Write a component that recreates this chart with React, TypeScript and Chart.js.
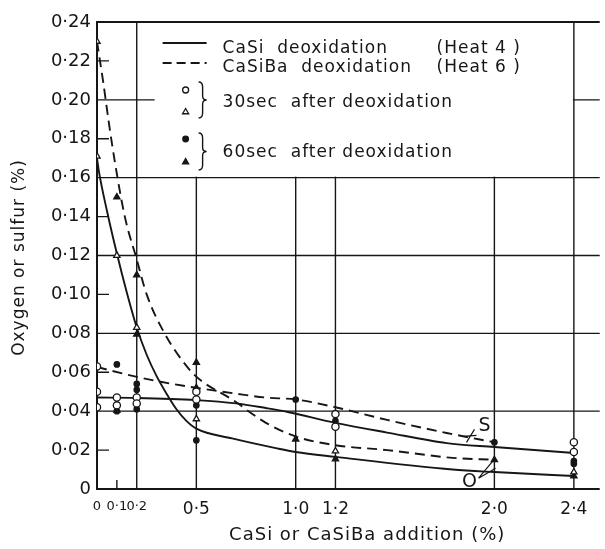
import React, { useEffect, useRef } from "react";
import { Chart, registerables } from "chart.js";

Chart.register(...registerables);

// ---------- axis ticks ----------
const xTickValues = [0, 0.1, 0.2, 0.5, 1.0, 1.2, 2.0, 2.4];
const xTickLabels = ["0", "0·1", "0·2", "0·5", "1·0", "1·2", "2·0", "2·4"];
const yTickValues = [0, 0.02, 0.04, 0.06, 0.08, 0.1, 0.12, 0.14, 0.16, 0.18, 0.2, 0.22, 0.24];
const yTickLabels = ["0", "0·02", "0·04", "0·06", "0·08", "0·10", "0·12", "0·14", "0·16", "0·18", "0·20", "0·22", "0·24"];

// ---------- grid positions (data values) ----------
const hGridFull = [0.04, 0.08, 0.12, 0.16, 0.2];
const hGridShort = [0.02, 0.06, 0.1, 0.14, 0.18, 0.22];
const vGridFull = [0.2, 0.5, 1.0, 1.2, 2.0, 2.4];
const vGridShort = [0.1];

// ---------- fitted curves ----------
const oxygenCaSiX = [0, 0.01, 0.05, 0.1, 0.15, 0.2, 0.25, 0.3, 0.35, 0.4, 0.45, 0.5, 0.68, 0.9, 1.0, 1.2, 1.79, 2.0, 2.4];
const oxygenCaSiY = [0.17, 0.163, 0.143, 0.121, 0.101, 0.083, 0.069, 0.058, 0.049, 0.041, 0.035, 0.031, 0.026, 0.021, 0.019, 0.0165, 0.01, 0.0087, 0.0067];

const oxygenCaSiBaX = [0, 0.03, 0.06, 0.09, 0.14, 0.2, 0.25, 0.34, 0.46, 0.52, 0.68, 0.85, 1.0, 1.2, 1.46, 1.79, 2.0];
const oxygenCaSiBaY = [0.23, 0.21, 0.188, 0.168, 0.14, 0.118, 0.1, 0.08, 0.062, 0.056, 0.046, 0.034, 0.027, 0.0225, 0.02, 0.016, 0.015];

const sulfurCaSiX = [0, 0.2, 0.5, 0.7, 0.85, 0.96, 1.2, 1.46, 1.76, 2.0, 2.4];
const sulfurCaSiY = [0.047, 0.0468, 0.0457, 0.044, 0.0416, 0.0396, 0.034, 0.029, 0.0236, 0.0216, 0.0185];

const sulfurCaSiBaX = [0, 0.2, 0.38, 0.5, 0.7, 0.85, 1.0, 1.2, 1.46, 1.76, 2.0];
const sulfurCaSiBaY = [0.0627, 0.0576, 0.054, 0.052, 0.049, 0.047, 0.046, 0.042, 0.0355, 0.0288, 0.024];

// ---------- measured points ----------
const open30CircleX = [0, 0, 0, 0.1, 0.1, 0.2, 0.2, 0.5, 0.5, 1.2, 1.2, 2.4, 2.4];
const open30CircleY = [0.063, 0.05, 0.042, 0.047, 0.043, 0.047, 0.044, 0.05, 0.046, 0.0385, 0.032, 0.024, 0.019];

const open30TriangleX = [0, 0, 0.1, 0.2, 0.5, 1.2, 2.4];
const open30TriangleY = [0.23, 0.171, 0.12, 0.083, 0.036, 0.0195, 0.0087];

const filled60CircleX = [0.1, 0.1, 0.2, 0.2, 0.2, 0.5, 0.5, 0.5, 1.0, 1.2, 1.2, 2.0, 2.4, 2.4];
const filled60CircleY = [0.064, 0.04, 0.054, 0.051, 0.041, 0.051, 0.043, 0.025, 0.046, 0.035, 0.032, 0.024, 0.0144, 0.013];

const filled60TriangleX = [0.1, 0.1, 0.2, 0.2, 0.5, 0.5, 1.0, 1.2, 2.0, 2.4];
const filled60TriangleY = [0.15, 0.0405, 0.11, 0.0795, 0.065, 0.052, 0.0256, 0.0154, 0.015, 0.0067];

const INK = "#161616";
const FONT = "'DejaVu Sans', sans-serif";

const pts = (xs: number[], ys: number[]) => xs.map((x, i) => ({ x, y: ys[i] }));

function drawMarker(ctx: CanvasRenderingContext2D, kind: string, filled: boolean, x: number, y: number, r: number) {
  ctx.beginPath();
  if (kind === "circle") {
    ctx.arc(x, y, r, 0, Math.PI * 2);
  } else {
    let rad = 0;
    ctx.moveTo(x + Math.sin(rad) * r, y - Math.cos(rad) * r);
    rad += (2 * Math.PI) / 3;
    ctx.lineTo(x + Math.sin(rad) * r, y - Math.cos(rad) * r);
    rad += (2 * Math.PI) / 3;
    ctx.lineTo(x + Math.sin(rad) * r, y - Math.cos(rad) * r);
    ctx.closePath();
  }
  ctx.fillStyle = filled ? INK : "#fff";
  ctx.fill();
  ctx.lineWidth = 1.3;
  ctx.strokeStyle = INK;
  ctx.stroke();
}

function drawBrace(ctx: CanvasRenderingContext2D, bx: number, y0: number, y1: number) {
  const ym = (y0 + y1) / 2;
  ctx.beginPath();
  ctx.moveTo(bx, y0);
  ctx.quadraticCurveTo(bx + 4, y0, bx + 4, y0 + 5);
  ctx.lineTo(bx + 4, ym - 4);
  ctx.quadraticCurveTo(bx + 4, ym, bx + 8, ym);
  ctx.quadraticCurveTo(bx + 4, ym, bx + 4, ym + 4);
  ctx.lineTo(bx + 4, y1 - 5);
  ctx.quadraticCurveTo(bx + 4, y1, bx, y1);
  ctx.lineWidth = 1.4;
  ctx.strokeStyle = INK;
  ctx.stroke();
}

const figurePlugin = {
  id: "figureDecor",
  beforeDatasetsDraw(chart: any) {
    const { ctx, chartArea: a } = chart;
    const xs = chart.scales.x;
    const ys = chart.scales.y;
    const X = (v: number) => xs.getPixelForValue(v);
    const Y = (v: number) => ys.getPixelForValue(v);
    ctx.save();
    ctx.strokeStyle = INK;

    // grid lines
    ctx.lineWidth = 1.4;
    ctx.beginPath();
    for (const v of hGridFull) {
      ctx.moveTo(a.left, Y(v));
      ctx.lineTo(a.right, Y(v));
    }
    for (const v of vGridFull) {
      ctx.moveTo(X(v), a.top);
      ctx.lineTo(X(v), a.bottom);
    }
    ctx.stroke();

    ctx.beginPath();
    for (const v of hGridShort) {
      ctx.moveTo(a.left, Y(v));
      ctx.lineTo(a.left + 12, Y(v));
    }
    for (const v of vGridShort) {
      ctx.moveTo(X(v), a.bottom);
      ctx.lineTo(X(v), a.bottom - 9);
    }
    ctx.stroke();

    // legend panel (white, bounded by 0.16 line and 2.4 line)
    const lx0 = X(0.29);
    const lx1 = X(2.4);
    const ly0 = a.top;
    const ly1 = Y(0.16);
    ctx.fillStyle = "#fff";
    ctx.fillRect(lx0, ly0 + 1, lx1 - lx0 - 1, ly1 - ly0 - 2);

    // frame
    ctx.lineWidth = 2;
    ctx.beginPath();
    ctx.moveTo(a.right, a.top);
    ctx.lineTo(a.left, a.top);
    ctx.lineTo(a.left, a.bottom);
    ctx.lineTo(a.right, a.bottom);
    ctx.stroke();

    // legend contents
    const L = lx0;
    const T = ly0;
    ctx.lineWidth = 1.8;
    ctx.beginPath();
    ctx.moveTo(L + 8, T + 21);
    ctx.lineTo(L + 52, T + 21);
    ctx.stroke();
    ctx.setLineDash([9, 5]);
    ctx.beginPath();
    ctx.moveTo(L + 8, T + 41);
    ctx.lineTo(L + 52, T + 41);
    ctx.stroke();
    ctx.setLineDash([]);

    ctx.fillStyle = INK;
    ctx.font = `17px ${FONT}`;
    (ctx as any).letterSpacing = "1px";
    ctx.textAlign = "left";
    ctx.textBaseline = "middle";
    ctx.fillText("CaSi  deoxidation", L + 68, T + 27);
    ctx.fillText("(Heat 4 )", L + 282, T + 27);
    ctx.fillText("CaSiBa  deoxidation", L + 68, T + 46);
    ctx.fillText("(Heat 6 )", L + 282, T + 46);

    drawMarker(ctx, "circle", false, L + 31, T + 68, 3);
    drawMarker(ctx, "triangle", false, L + 31, T + 90, 3.5);
    drawBrace(ctx, L + 44, T + 60, T + 96);
    ctx.fillStyle = INK;
    ctx.fillText("30sec  after deoxidation", L + 68, T + 81);

    drawMarker(ctx, "circle", true, L + 31, T + 117, 2.8);
    drawMarker(ctx, "triangle", true, L + 31, T + 140, 3.5);
    drawBrace(ctx, L + 44, T + 111, T + 148);
    ctx.fillStyle = INK;
    ctx.fillText("60sec  after deoxidation", L + 68, T + 131);
    (ctx as any).letterSpacing = "0px";

    // curve labels S and O
    ctx.font = `19px ${FONT}`;
    ctx.textAlign = "center";
    const sx = X(1.93);
    const sy = Y(0.0322);
    ctx.fillText("S", sx + 4, sy);
    ctx.lineWidth = 1.2;
    ctx.beginPath();
    ctx.moveTo(sx - 6, sy + 3);
    ctx.lineTo(sx - 14, sy + 16);
    ctx.moveTo(sx - 17, sy + 10);
    ctx.lineTo(sx - 4, sy + 9);
    ctx.stroke();

    const ox = X(1.86);
    const oy = Y(0.0035);
    ctx.fillText("O", ox + 3, oy);
    ctx.beginPath();
    ctx.moveTo(ox + 12, oy - 4);
    ctx.lineTo(ox + 27, oy - 22);
    ctx.moveTo(ox + 12, oy - 4);
    ctx.lineTo(ox + 29, oy - 14);
    ctx.stroke();

    // axis titles
    ctx.font = `17px ${FONT}`;
    (ctx as any).letterSpacing = "1px";
    ctx.textAlign = "center";
    ctx.textBaseline = "middle";
    ctx.save();
    ctx.translate(20, (a.top + a.bottom) / 2 + 2);
    ctx.rotate(-Math.PI / 2);
    ctx.fillText("Oxygen or sulfur (%)", 0, 0);
    ctx.restore();
    ctx.font = `18px ${FONT}`;
    ctx.fillText("CaSi or CaSiBa addition (%)", X(1.36), 535);
    (ctx as any).letterSpacing = "0px";

    ctx.restore();
  },
};

export default function App() {
  const ref = useRef<HTMLCanvasElement | null>(null);

  useEffect(() => {
    document.body.style.margin = "0";
    const canvas = ref.current;
    if (!canvas) return;
    Chart.defaults.font.family = FONT;
    Chart.defaults.color = INK;

    const curve = (xs: number[], ys: number[], dashed: boolean) => ({
      type: "line" as const,
      data: pts(xs, ys),
      borderColor: INK,
      borderWidth: 1.9,
      borderDash: dashed ? [10, 6] : [],
      pointRadius: 0,
      fill: false,
      cubicInterpolationMode: "monotone" as const,
      order: 2,
    });
    const marks = (xs: number[], ys: number[], style: string, filled: boolean, r: number) => ({
      type: "line" as const,
      data: pts(xs, ys),
      showLine: false,
      pointStyle: style,
      pointRadius: r,
      pointBorderWidth: 1.3,
      pointBorderColor: INK,
      pointBackgroundColor: filled ? INK : "#fff",
      order: 1,
    });

    const chart = new Chart(canvas, {
      type: "line",
      data: {
        datasets: [
          curve(oxygenCaSiX, oxygenCaSiY, false),
          curve(oxygenCaSiBaX, oxygenCaSiBaY, true),
          curve(sulfurCaSiX, sulfurCaSiY, false),
          curve(sulfurCaSiBaX, sulfurCaSiBaY, true),
          marks(open30CircleX, open30CircleY, "circle", false, 3.6),
          marks(open30TriangleX, open30TriangleY, "triangle", false, 3.6),
          marks(filled60CircleX, filled60CircleY, "circle", true, 2.7),
          marks(filled60TriangleX, filled60TriangleY, "triangle", true, 3.6),
        ] as any,
      },
      options: {
        responsive: false,
        animation: false,
        events: [],
        layout: { padding: { top: 22, right: 0, bottom: 0, left: 0 } },
        plugins: { legend: { display: false }, tooltip: { enabled: false } },
        scales: {
          x: {
            type: "linear",
            min: 0,
            max: 2.53,
            grid: { display: false, drawTicks: false },
            border: { display: false },
            afterBuildTicks: (s: any) => {
              s.ticks = xTickValues.map((v) => ({ value: v }));
            },
            afterFit: (s: any) => {
              s.height = 60;
            },
            ticks: {
              autoSkip: false,
              maxRotation: 0,
              minRotation: 0,
              padding: 10,
              color: INK,
              font: (c: any) => ({ family: FONT, size: c.index <= 2 ? 13 : 17 }),
              callback: (_v: any, i: number) => xTickLabels[i],
            },
          },
          y: {
            type: "linear",
            min: 0,
            max: 0.24,
            grid: { display: false, drawTicks: false },
            border: { display: false },
            afterBuildTicks: (s: any) => {
              s.ticks = yTickValues.map((v) => ({ value: v }));
            },
            afterFit: (s: any) => {
              s.width = 97;
            },
            ticks: {
              padding: 6,
              color: INK,
              font: { family: FONT, size: 18 },
              callback: (_v: any, i: number) => yTickLabels[i],
            },
          },
        },
      },
      plugins: [figurePlugin],
    });

    return () => chart.destroy();
  }, []);

  return <canvas ref={ref} width={605} height={549} style={{ display: "block" }} />;
}
